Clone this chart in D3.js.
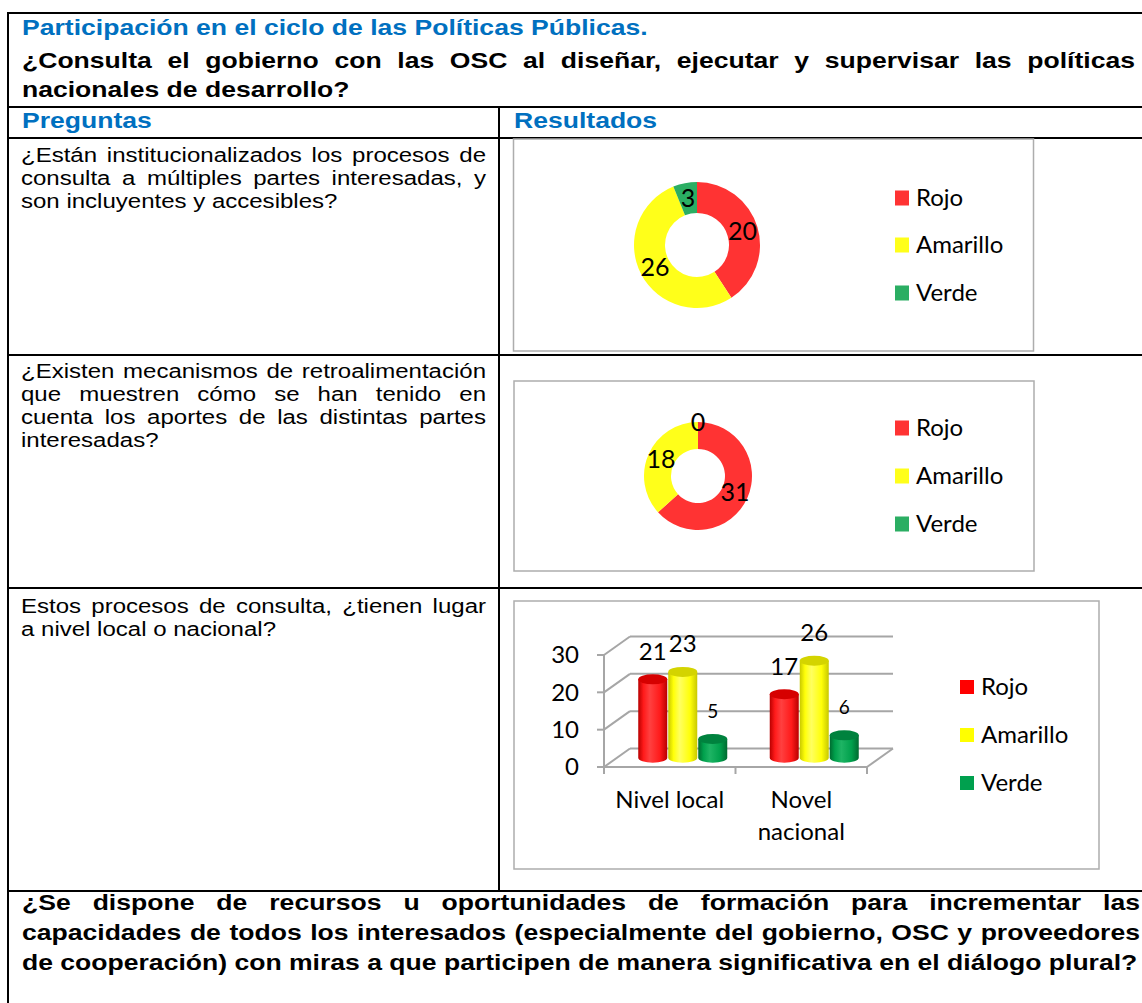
<!DOCTYPE html>
<html>
<head>
<meta charset="utf-8">
<script src="https://cdn.jsdelivr.net/npm/d3@7/dist/d3.min.js"></script>
<style>
  body { margin: 0; background: #fff; }
  svg { display: block; }
</style>
</head>
<body>
<svg id="page" width="1142" height="1003"></svg>
<script>
// series / categorias
const series = ['Rojo', 'Amarillo', 'Verde'];
const donut1Values = [20, 26, 3];
const donut2Values = [31, 18, 0];
const barCategories = ['Nivel local', 'Novel nacional'];
const rojoValues = [21, 17];
const amarilloValues = [23, 26];
const verdeValues = [5, 6];
const yTicks = [0, 10, 20, 30];

// textos de la tabla
const titleText = 'Participación en el ciclo de las Políticas Públicas.';
const questionLines = [
  '¿Consulta el gobierno con las OSC al diseñar, ejecutar y supervisar las políticas',
  'nacionales de desarrollo?'
];
const headers = ['Preguntas', 'Resultados'];
const row1Lines = [
  '¿Están institucionalizados los procesos de',
  'consulta a múltiples partes interesadas, y',
  'son incluyentes y accesibles?'
];
const row2Lines = [
  '¿Existen mecanismos de retroalimentación',
  'que muestren cómo se han tenido en',
  'cuenta los aportes de las distintas partes',
  'interesadas?'
];
const row3Lines = [
  'Estos procesos de consulta, ¿tienen lugar',
  'a nivel local o nacional?'
];
const bottomLines = [
  '¿Se dispone de recursos u oportunidades de formación para incrementar las',
  'capacidades de todos los interesados (especialmente del gobierno, OSC y proveedores',
  'de cooperación) con miras a que participen de manera significativa en el diálogo plural?'
];

const config = {
  font: "'Liberation Sans', Arial, sans-serif",
  chartFont: "Lato, 'Open Sans', sans-serif",
  sx: 1.245,
  blue: '#0070C0',
  donutColors: ['#FF3333', '#FFFF1A', '#2BAE63'],
  barColors: ['#FF0000', '#FFFF00', '#00A04E'],
  grid: '#A6A6A6',
  frame: '#ADADAD'
};

const svg = d3.select('#page');
svg.append('rect').attr('width', 1142).attr('height', 1003).attr('fill', '#fff');

/**
 * lineas de texto (justificadas salvo la ultima)
 */
function drawLines(parent, lines, opt) {
  lines.forEach((line, i) => {
    const g = parent.append('g')
      .attr('transform', `translate(${opt.x0},${opt.y + i * opt.lh}) scale(${config.sx},1)`);
    const text = g.append('text')
      .attr('font-family', config.font)
      .attr('font-size', opt.size)
      .attr('font-weight', opt.weight || 'normal')
      .attr('fill', opt.fill || '#000');
    const justify = opt.justify && i < lines.length - 1;
    if (!justify) { text.text(line); return; }
    const words = line.split(' ');
    const spans = words.map(w => text.append('tspan').text(w));
    const widths = spans.map(s => s.node().getComputedTextLength());
    const avail = (opt.x1 - opt.x0) / config.sx;
    const gap = (avail - d3.sum(widths)) / (words.length - 1);
    let x = 0;
    spans.forEach((s, j) => { s.attr('x', x); x += widths[j] + gap; });
  });
}

// lineas de la tabla
const table = svg.append('g').attr('stroke', '#000').attr('stroke-width', 2);
[13, 107, 138, 355, 588, 891].forEach(y => {
  table.append('line').attr('x1', 7).attr('x2', 1142).attr('y1', y).attr('y2', y);
});
table.append('line').attr('x1', 8).attr('x2', 8).attr('y1', 12).attr('y2', 1003);
table.append('line').attr('x1', 499).attr('x2', 499).attr('y1', 107).attr('y2', 891);

// textos
const txt = svg.append('g');
drawLines(txt, [titleText], { x0: 22, y: 35, lh: 0, size: 21.33, weight: 'bold', fill: config.blue });
drawLines(txt, questionLines, { x0: 22, x1: 1135, y: 68, lh: 29, size: 21.33, weight: 'bold', justify: true });
drawLines(txt, [headers[0]], { x0: 22, y: 128, lh: 0, size: 21.33, weight: 'bold', fill: config.blue });
drawLines(txt, [headers[1]], { x0: 514, y: 128, lh: 0, size: 21.33, weight: 'bold', fill: config.blue });
drawLines(txt, row1Lines, { x0: 21, x1: 486, y: 162, lh: 23, size: 19.3, justify: true });
drawLines(txt, row2Lines, { x0: 21, x1: 486, y: 378, lh: 23, size: 19.3, justify: true });
drawLines(txt, row3Lines, { x0: 21, x1: 486, y: 613, lh: 23, size: 19.3, justify: true });
drawLines(txt, bottomLines, { x0: 22, x1: 1140, y: 910, lh: 30, size: 21.33, weight: 'bold', justify: true });

/**
 * leyenda
 */
function drawLegend(parent, colors, x, ys, sq) {
  const lg = parent.append('g');
  series.forEach((s, i) => {
    lg.append('rect').attr('x', x).attr('y', ys[i] - sq / 2).attr('width', 14).attr('height', sq)
      .attr('fill', colors[i]);
    lg.append('text').attr('x', x + 21).attr('y', ys[i]).attr('dy', '0.35em')
      .attr('font-family', config.chartFont).attr('font-size', 24).attr('fill', '#000')
      .text(s);
  });
}

/**
 * grafico de anillo
 */
function drawDonut(values, c) {
  svg.append('rect').attr('x', c.fx).attr('y', c.fy).attr('width', c.fw).attr('height', c.fh)
    .attr('fill', '#fff').attr('stroke', config.frame).attr('stroke-width', 1.5);
  const g = svg.append('g').attr('transform', `translate(${c.cx},${c.cy})`);
  const pie = d3.pie().sort(null).value(d => d)(values);
  const arc = d3.arc().innerRadius(c.r0).outerRadius(c.r1);
  const edge = d3.arc().innerRadius(c.r1).outerRadius(c.r1);
  g.selectAll('path').data(pie).join('path')
    .attr('d', arc)
    .attr('fill', (d, i) => config.donutColors[i]);
  g.selectAll('text').data(pie).join('text')
    .attr('transform', d => `translate(${(d.value === 0 ? edge : arc).centroid(d)})`)
    .attr('text-anchor', 'middle').attr('dy', '0.35em')
    .attr('font-family', config.chartFont).attr('font-size', 25)
    .text(d => d.value);
  drawLegend(svg, config.donutColors, c.lx, c.ly, 15);
}

drawDonut(donut1Values, { fx: 513.5, fy: 139, fw: 520, fh: 212, cx: 697, cy: 245, r0: 32, r1: 63, lx: 895, ly: [198, 245, 293] });
drawDonut(donut2Values, { fx: 514, fy: 381, fw: 520, fh: 190, cx: 698, cy: 476, r0: 27, r1: 54, lx: 895, ly: [428, 476, 524] });

/**
 * grafico de barras 3D (cilindros)
 */
function drawBars() {
  svg.append('rect').attr('x', 514).attr('y', 601).attr('width', 585).attr('height', 268)
    .attr('fill', '#fff').attr('stroke', config.frame).attr('stroke-width', 1.5);

  const dx = 26, dy = -18.5;
  const y = d3.scaleLinear().domain([0, 30]).range([767, 655]);
  const x0 = d3.scaleBand().domain(barCategories).range([604, 867]);
  const x1 = d3.scaleBand().domain(series).range([0, 90]);
  const valuesBySeries = [rojoValues, amarilloValues, verdeValues];

  const grid = svg.append('g').attr('stroke', config.grid).attr('stroke-width', 2).attr('fill', 'none');
  // pared del fondo y pared lateral
  yTicks.forEach(t => {
    grid.append('line').attr('x1', x0.range()[0] + dx).attr('x2', x0.range()[1] + dx)
      .attr('y1', y(t) + dy).attr('y2', y(t) + dy);
    grid.append('line').attr('x1', x0.range()[0]).attr('x2', x0.range()[0] + dx)
      .attr('y1', y(t)).attr('y2', y(t) + dy);
    grid.append('line').attr('x1', x0.range()[0] - 7).attr('x2', x0.range()[0])
      .attr('y1', y(t)).attr('y2', y(t));
  });
  // piso
  grid.append('line').attr('x1', x0.range()[0]).attr('x2', x0.range()[1])
    .attr('y1', y(0)).attr('y2', y(0));
  grid.append('line').attr('x1', x0.range()[1]).attr('x2', x0.range()[1] + dx)
    .attr('y1', y(0)).attr('y2', y(0) + dy);
  grid.append('line').attr('x1', x0.range()[0]).attr('x2', x0.range()[0])
    .attr('y1', y(30)).attr('y2', y(0));
  [...barCategories.map(c => x0(c)), x0.range()[1]].forEach(xx => {
    grid.append('line').attr('x1', xx).attr('x2', xx).attr('y1', y(0)).attr('y2', y(0) + 7);
  });

  // eje Y
  svg.append('g').selectAll('text').data(yTicks).join('text')
    .attr('x', 579).attr('y', d => y(d)).attr('dy', '0.35em')
    .attr('text-anchor', 'end')
    .attr('font-family', config.chartFont).attr('font-size', 24)
    .text(d => d);

  // etiquetas de categorias
  const cat = svg.append('g');
  barCategories.forEach(c => {
    const words = c === 'Nivel local' ? [c] : c.split(' ');
    words.forEach((w, i) => {
      cat.append('text').attr('x', x0(c) + x0.bandwidth() / 2).attr('y', 808 + i * 32)
        .attr('text-anchor', 'middle')
        .attr('font-family', config.chartFont).attr('font-size', 24)
        .text(w);
    });
  });

  // degradados
  const defs = svg.append('defs');
  const shades = [
    { edge: '#B80000', mid: '#FF1A1A', hi: '#FF4040', top: '#D60000' },
    { edge: '#C8C800', mid: '#FFFF08', hi: '#FFFF60', top: '#D4D400' },
    { edge: '#006A30', mid: '#00A04C', hi: '#1EB464', top: '#00823E' }
  ];
  shades.forEach((s, i) => {
    const lg = defs.append('linearGradient').attr('id', `cyl${i}`).attr('x1', 0).attr('x2', 1).attr('y1', 0).attr('y2', 0);
    lg.append('stop').attr('offset', 0).attr('stop-color', s.edge);
    lg.append('stop').attr('offset', 0.18).attr('stop-color', s.mid);
    lg.append('stop').attr('offset', 0.4).attr('stop-color', s.hi);
    lg.append('stop').attr('offset', 0.75).attr('stop-color', s.mid);
    lg.append('stop').attr('offset', 1).attr('stop-color', s.edge);
  });

  // cilindros
  const rx = x1.bandwidth() / 2 - 0.5, ry = 5;
  const bars = svg.append('g');
  const labels = svg.append('g');
  barCategories.forEach((c, ci) => {
    series.forEach((s, si) => {
      const v = valuesBySeries[si][ci];
      const cx = x0(c) + x0.bandwidth() / 2 - 45 + x1(s) + x1.bandwidth() / 2 + dx / 2;
      const base = y(0) + dy / 2;
      const top = y(v) + dy / 2;
      bars.append('path')
        .attr('d', `M${cx - rx},${top} L${cx - rx},${base} A${rx},${ry} 0 0 0 ${cx + rx},${base} L${cx + rx},${top} Z`)
        .attr('fill', `url(#cyl${si})`);
      bars.append('ellipse').attr('cx', cx).attr('cy', top).attr('rx', rx).attr('ry', ry)
        .attr('fill', shades[si].top);
      labels.append('text').attr('x', cx).attr('y', top - 28).attr('dy', '0.35em')
        .attr('text-anchor', 'middle')
        .attr('font-family', config.chartFont).attr('font-size', si === 2 ? 19 : 24)
        .text(v);
    });
  });

  drawLegend(svg, config.barColors, 960, [687, 735, 783], 14);
}

drawBars();
</script>
</body>
</html>
